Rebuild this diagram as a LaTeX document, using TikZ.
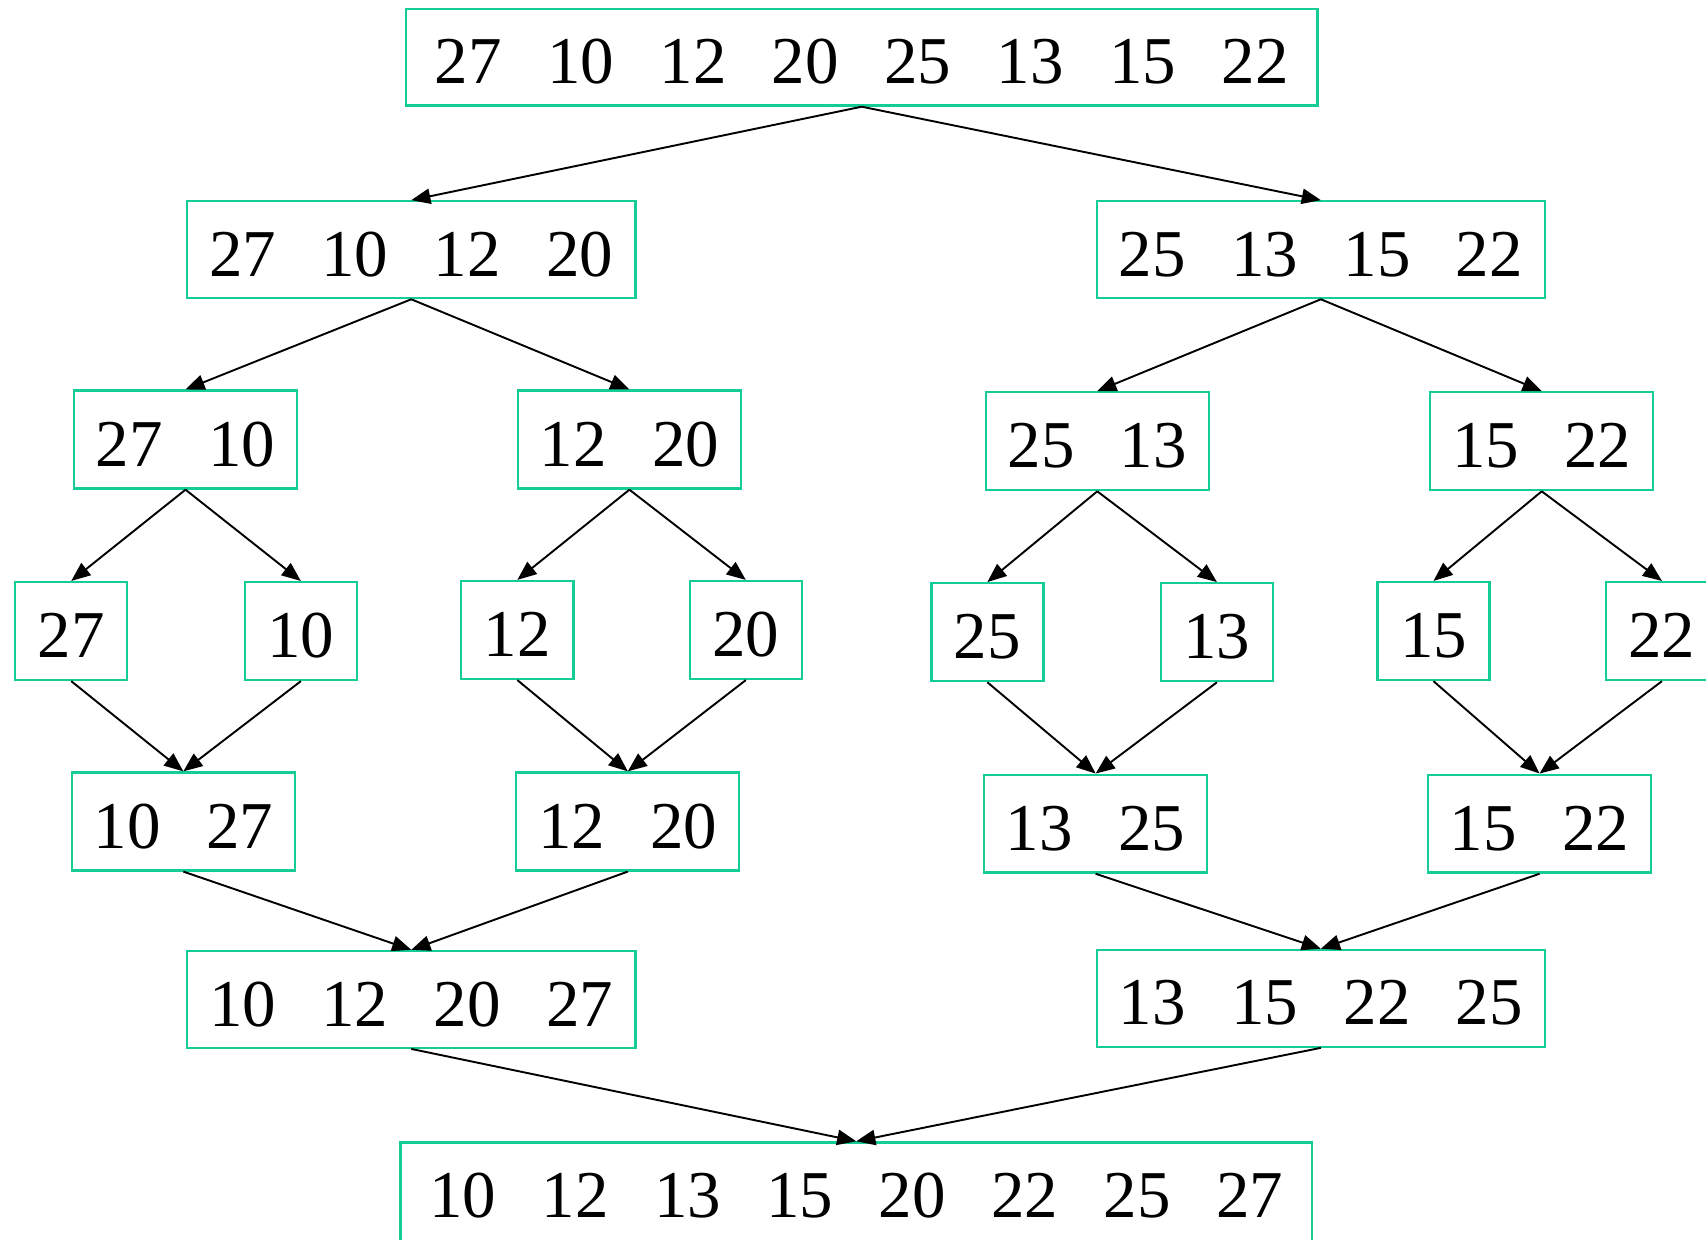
\documentclass[tikz,border=0pt]{standalone}
\usepackage{fontspec}
\setmainfont{Liberation Serif}
\usepackage{xcolor}
\usepackage{tikz}
\usetikzlibrary{arrows.meta,positioning,calc}

\definecolor{boxgreen}{RGB}{20,204,150}
\newcommand{\nsp}{\hspace{0.68em}}

\tikzset{
	numbox/.style={draw=boxgreen, line width=0.6pt, minimum height=0.89cm, inner sep=0pt,
		text height=0.49cm, text depth=0cm, font=\fontsize{17.5}{20}\selectfont},
	wide/.style={numbox, minimum width=8.38cm},
	half/.style={numbox, minimum width=4.12cm},
	pair/.style={numbox, minimum width=2.05cm, minimum height=0.9cm},
	single/.style={numbox, minimum width=1.03cm, minimum height=0.9cm},
	split/.style={line width=0.5pt, -{Triangle[length=5pt,width=4pt]}}
}

\begin{document}
\begin{tikzpicture}
		\useasboundingbox (0,0) rectangle (15.68,-11.39);
		% dividing
		\node[wide] (top) at (7.92,-0.525) {27\nsp10\nsp12\nsp20\nsp25\nsp13\nsp15\nsp22};
		\node[half] (l) at (3.78,-2.295) {27\nsp10\nsp12\nsp20};
		\node[half] (r) at (12.14,-2.295) {25\nsp13\nsp15\nsp22};
		\node[pair] (ll) at (1.705,-4.04) {27\nsp10};
		\node[pair] (lr) at (5.785,-4.04) {12\nsp20};
		\node[pair] (rl) at (10.085,-4.055) {25\nsp13};
		\node[pair] (rr) at (14.17,-4.055) {15\nsp22};
		% single elements
		\node[single] (e1) at (0.655,-5.80) {27};
		\node[single] (e2) at (2.765,-5.80) {10};
		\node[single] (e3) at (4.755,-5.79) {12};
		\node[single] (e4) at (6.855,-5.79) {20};
		\node[single] (e5) at (9.075,-5.81) {25};
		\node[single] (e6) at (11.185,-5.81) {13};
		\node[single] (e7) at (13.175,-5.80) {15};
		\node[single] (e8) at (15.275,-5.80) {22};
		% merging
		\node[pair] (mll) at (1.685,-7.55) {10\nsp27};
		\node[pair] (mlr) at (5.77,-7.55) {12\nsp20};
		\node[pair] (mrl) at (10.07,-7.57) {13\nsp25};
		\node[pair] (mrr) at (14.15,-7.57) {15\nsp22};
		\node[half] (ml) at (3.78,-9.185) {10\nsp12\nsp20\nsp27};
		\node[half] (mr) at (12.14,-9.175) {13\nsp15\nsp22\nsp25};
		\node[wide, minimum height=0.96cm, text height=0.42cm] (sorted) at (7.87,-10.98) {10\nsp12\nsp13\nsp15\nsp20\nsp22\nsp25\nsp27};

		\draw[split] (top.south) -- (l.north);
		\draw[split] (top.south) -- (r.north);
		\draw[split] (l.south) -- (ll.north);
		\draw[split] (l.south) -- (lr.north);
		\draw[split] (r.south) -- (rl.north);
		\draw[split] (r.south) -- (rr.north);
		\draw[split] (ll.south) -- (e1.north);
		\draw[split] (ll.south) -- (e2.north);
		\draw[split] (lr.south) -- (e3.north);
		\draw[split] (lr.south) -- (e4.north);
		\draw[split] (rl.south) -- (e5.north);
		\draw[split] (rl.south) -- (e6.north);
		\draw[split] (rr.south) -- (e7.north);
		\draw[split] (rr.south) -- (e8.north);

		\draw[split] (e1.south) -- (mll.north);
		\draw[split] (e2.south) -- (mll.north);
		\draw[split] (e3.south) -- (mlr.north);
		\draw[split] (e4.south) -- (mlr.north);
		\draw[split] (e5.south) -- (mrl.north);
		\draw[split] (e6.south) -- (mrl.north);
		\draw[split] (e7.south) -- (mrr.north);
		\draw[split] (e8.south) -- (mrr.north);
		\draw[split] (mll.south) -- (ml.north);
		\draw[split] (mlr.south) -- (ml.north);
		\draw[split] (mrl.south) -- (mr.north);
		\draw[split] (mrr.south) -- (mr.north);
		\draw[split] (ml.south) -- (sorted.north);
		\draw[split] (mr.south) -- (sorted.north);
	\end{tikzpicture}
\end{document}
